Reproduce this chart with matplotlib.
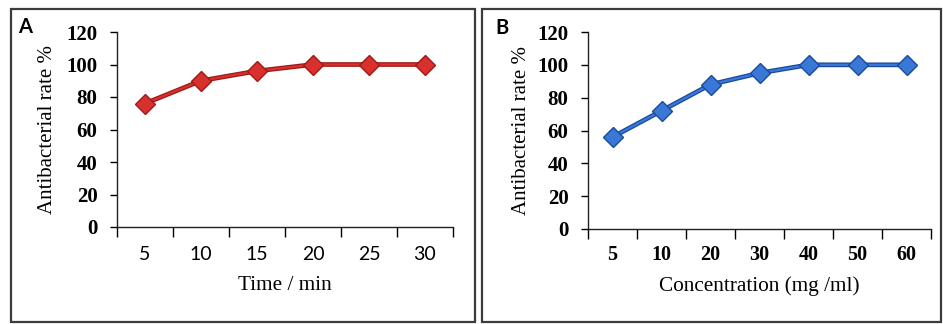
import matplotlib
matplotlib.use("Agg")
import matplotlib.pyplot as plt
from matplotlib.patches import Rectangle

# ---- data ----
time_labels = ["5", "10", "15", "20", "25", "30"]
time_rate = [76, 90, 96, 100, 100, 100]
conc_labels = ["5", "10", "20", "30", "40", "50", "60"]
conc_rate = [56, 72, 88, 95, 100, 100, 100]
y_ticks = [0, 20, 40, 60, 80, 100, 120]

W, H = 943, 324
fig = plt.figure(figsize=(W / 100, H / 100), dpi=100)

SERIF = "Liberation Serif"
SANS = "Lato"
PX = 0.72  # points per pixel at dpi 100


def px_axes(l, r, t, b):
    return fig.add_axes([l / W, 1 - b / H, (r - l) / W, (b - t) / H])


def style_panel(ax, box, labels, values, xlabel, line_col, edge_col,
                xtick_font, xtick_weight, xtick_size, ylabel_x, xtick_y, xlabel_y):
    l, r, t, b = box
    n = len(labels)
    xs = list(range(n))
    ax.plot(xs, values, color=edge_col, lw=3.4, zorder=3, solid_capstyle="round")
    ax.plot(xs, values, color=line_col, lw=1.6, zorder=4, solid_capstyle="round")
    ax.plot(xs, values, linestyle="none", marker="D", ms=10.5, mfc=line_col,
            mec=edge_col, mew=1.0, zorder=5)
    ax.set_xlim(-0.5, n - 0.5)
    ax.set_ylim(0, 120)
    ax.set_yticks(y_ticks)
    ax.set_yticklabels([str(v) for v in y_ticks], fontfamily=SERIF,
                       fontweight="bold", fontsize=15)
    ax.set_xticks(xs)
    ax.set_xticklabels(labels, fontfamily=xtick_font, fontweight=xtick_weight,
                       fontsize=xtick_size)
    for lab in ax.get_xticklabels():
        lab.set_va("center")
    ax.set_xticks([i - 0.5 for i in range(n + 1)], minor=True)
    ax.tick_params(axis="x", which="major", length=0, pad=(xtick_y - b) * PX)
    ax.tick_params(axis="x", which="minor", length=7, width=1.0, direction="out")
    ax.tick_params(axis="y", which="major", length=5, width=1.0, direction="out",
                   pad=12.5 * PX)
    for s in ("top", "right"):
        ax.spines[s].set_visible(False)
    for s in ("left", "bottom"):
        ax.spines[s].set_linewidth(1.0)
        ax.spines[s].set_color("#222222")
    ax.set_ylabel("Antibacterial rate %", fontfamily=SERIF, fontsize=15)
    ax.yaxis.label.set_va("center")
    ax.yaxis.set_label_coords((ylabel_x - l) / (r - l), 0.5)
    ax.set_xlabel(xlabel, fontfamily=SERIF, fontsize=15.3)
    ax.xaxis.label.set_va("center")
    ax.xaxis.set_label_coords(0.5, -(xlabel_y - b) / (b - t))
    ax.set_facecolor("none")


boxA = (117, 453, 32, 227)
axA = px_axes(*boxA)
style_panel(axA, boxA, time_labels, time_rate, "Time / min", "#D8302C", "#9E1A18",
            SANS, "normal", 14, 48, 255, 286)
boxB = (588, 931, 32, 229)
axB = px_axes(*boxB)
style_panel(axB, boxB, conc_labels, conc_rate, "Concentration (mg /ml)", "#3A78D8", "#1A4A9C",
            SERIF, "bold", 14.5, 521, 255, 286)

# panel frames
for (l, r) in [(11, 475), (482, 941)]:
    fig.patches.append(Rectangle((l / W, 1 - 322 / H), (r - l) / W, (322 - 9) / H,
                                 transform=fig.transFigure, fill=False,
                                 edgecolor="#3c3c3c", lw=1.6))

fig.text(18 / W, 1 - 27 / H, "A", fontfamily=SANS, fontweight="bold", fontsize=14.5,
         va="center", ha="left")
fig.text(495 / W, 1 - 28 / H, "B", fontfamily=SANS, fontweight="bold", fontsize=14.5,
         va="center", ha="left")

fig.savefig("out.png", dpi=100)
